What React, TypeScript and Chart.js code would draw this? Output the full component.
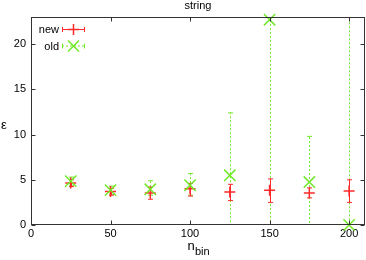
import React, { useEffect, useRef } from "react";
import { Chart, registerables } from "chart.js";

Chart.register(...registerables);

const nBins = [25, 50, 75, 100, 125, 150, 175, 200];
const newVal = [4.65, 3.7, 3.55, 4.0, 3.65, 3.85, 3.55, 3.75];
const newLow = [4.25, 3.3, 2.85, 3.2, 2.7, 2.5, 3.0, 2.5];
const newHigh = [5.0, 4.05, 4.2, 4.6, 4.5, 5.1, 4.1, 5.0];
const oldVal = [4.85, 3.85, 3.95, 4.4, 5.5, 22.7, 4.75, 0.0];
const oldLow = [4.4, 3.4, 3.3, 3.3, -5, -20, -2, -30];
const oldHigh = [5.3, 4.3, 4.9, 5.7, 12.4, 60, 9.8, 30];
const xTicks = [0, 50, 100, 150, 200];
const yTicks = [0, 5, 10, 15, 20];
const seriesNames = ["new", "old"];

const RED = "#ff2a2a";
const GREEN = "#72e82a";
const FONT = "'Liberation Sans', Arial, sans-serif";

const custom = {
  id: "custom",
  beforeDatasetsDraw(chart: any) {
    const { ctx, chartArea: a, scales } = chart;
    const xs = scales.x;
    const ys = scales.y;
    ctx.save();
    ctx.beginPath();
    ctx.rect(a.left, a.top, a.right - a.left, a.bottom - a.top);
    ctx.clip();
    const drawBars = (lo: number[], hi: number[], color: string, dash: number[]) => {
      ctx.strokeStyle = color;
      ctx.lineWidth = 1;
      ctx.setLineDash(dash);
      nBins.forEach((n, i) => {
        const px = Math.round(xs.getPixelForValue(n)) + 0.5;
        const y1 = ys.getPixelForValue(lo[i]);
        const y2 = ys.getPixelForValue(hi[i]);
        ctx.beginPath();
        ctx.moveTo(px, y1);
        ctx.lineTo(px, y2);
        ctx.stroke();
        ctx.setLineDash([]);
        ctx.beginPath();
        ctx.moveTo(px - 2.5, y1);
        ctx.lineTo(px + 2.5, y1);
        ctx.moveTo(px - 2.5, y2);
        ctx.lineTo(px + 2.5, y2);
        ctx.stroke();
        ctx.setLineDash(dash);
      });
      ctx.setLineDash([]);
    };
    drawBars(oldLow, oldHigh, GREEN, [2, 2]);
    drawBars(newLow, newHigh, RED, []);
    ctx.restore();
  },
  afterDraw(chart: any) {
    const { ctx, chartArea: a, scales } = chart;
    const xs = scales.x;
    const ys = scales.y;
    ctx.save();
    const L = Math.round(a.left) + 0.5;
    const R = Math.round(a.right) - 0.5;
    const T = Math.round(a.top) + 0.5;
    const B = Math.round(a.bottom) - 0.5;
    ctx.strokeStyle = "#333";
    ctx.lineWidth = 1;
    ctx.strokeRect(L, T, R - L, B - T);
    ctx.beginPath();
    xTicks.forEach((v) => {
      const px = Math.round(xs.getPixelForValue(v)) + 0.5;
      ctx.moveTo(px, B);
      ctx.lineTo(px, B - 4);
      ctx.moveTo(px, T);
      ctx.lineTo(px, T + 4);
    });
    yTicks.forEach((v) => {
      const py = Math.round(ys.getPixelForValue(v)) + 0.5;
      ctx.moveTo(L, py);
      ctx.lineTo(L + 4, py);
      ctx.moveTo(R, py);
      ctx.lineTo(R - 4, py);
    });
    ctx.stroke();

    // title
    ctx.fillStyle = "#000";
    ctx.font = `11px ${FONT}`;
    ctx.textAlign = "center";
    ctx.textBaseline = "alphabetic";
    ctx.fillText("string", (a.left + a.right) / 2, 8.5);

    // y label
    ctx.font = `13px ${FONT}`;
    ctx.fillText("\u03b5", 4, 129);

    // x label with subscript
    ctx.textAlign = "left";
    ctx.font = `13px ${FONT}`;
    ctx.fillText("n", 187.5, 250);
    ctx.font = `11px ${FONT}`;
    ctx.fillText("bin", 195, 255);

    // legend
    ctx.font = `11px ${FONT}`;
    ctx.textAlign = "right";
    ctx.fillText(seriesNames[0], 59, 33);
    ctx.fillText(seriesNames[1], 59, 49.5);
    const lx1 = 62, lx2 = 85, lc = 73.5;
    // red sample
    let y = 29.5;
    ctx.strokeStyle = RED;
    ctx.lineWidth = 1;
    ctx.beginPath();
    ctx.moveTo(lx1, y); ctx.lineTo(lx2, y);
    ctx.moveTo(lx1 + 0.5, y - 2.5); ctx.lineTo(lx1 + 0.5, y + 2.5);
    ctx.moveTo(lx2 - 0.5, y - 2.5); ctx.lineTo(lx2 - 0.5, y + 2.5);
    ctx.stroke();
    ctx.lineWidth = 1.5;
    ctx.beginPath();
    ctx.moveTo(lc - 5.5, y); ctx.lineTo(lc + 5.5, y);
    ctx.moveTo(lc, y - 5.5); ctx.lineTo(lc, y + 5.5);
    ctx.stroke();
    // green sample
    y = 46;
    ctx.strokeStyle = GREEN;
    ctx.lineWidth = 1;
    ctx.setLineDash([2, 2]);
    ctx.beginPath();
    ctx.moveTo(lx1, y); ctx.lineTo(lx2, y);
    ctx.stroke();
    ctx.setLineDash([]);
    ctx.beginPath();
    ctx.moveTo(lx1 + 0.5, y - 2.5); ctx.lineTo(lx1 + 0.5, y + 2.5);
    ctx.moveTo(lx2 - 0.5, y - 2.5); ctx.lineTo(lx2 - 0.5, y + 2.5);
    ctx.stroke();
    ctx.lineWidth = 1.5;
    ctx.beginPath();
    const d = 5.5;
    ctx.moveTo(lc - d, y - d); ctx.lineTo(lc + d, y + d);
    ctx.moveTo(lc - d, y + d); ctx.lineTo(lc + d, y - d);
    ctx.stroke();
    ctx.restore();
  },
};

export default function App() {
  const ref = useRef<HTMLCanvasElement | null>(null);
  useEffect(() => {
    document.body.style.margin = "0";
    if (!ref.current) return;
    const chart = new Chart(ref.current, {
      type: "scatter",
      data: {
        datasets: [
          {
            label: seriesNames[1],
            data: nBins.map((n, i) => ({ x: n, y: oldVal[i] })),
            pointStyle: "crossRot",
            pointRadius: 8,
            pointHoverRadius: 8,
            borderColor: GREEN,
            backgroundColor: GREEN,
            pointBorderWidth: 1.5,
            clip: false as any,
          },
          {
            label: seriesNames[0],
            data: nBins.map((n, i) => ({ x: n, y: newVal[i] })),
            pointStyle: "cross",
            pointRadius: 5.5,
            pointHoverRadius: 5.5,
            borderColor: RED,
            backgroundColor: RED,
            pointBorderWidth: 1.5,
            clip: false as any,
          },
        ],
      },
      options: {
        animation: false,
        responsive: false,
        events: [],
        layout: { autoPadding: false, padding: { top: 17, right: 1, left: 0, bottom: 0 } },
        plugins: {
          legend: { display: false },
          title: { display: false },
          tooltip: { enabled: false },
        },
        scales: {
          x: {
            type: "linear",
            min: 0,
            max: 210,
            grid: { display: false, drawTicks: false },
            border: { display: false },
            afterBuildTicks: (s: any) => {
              s.ticks = xTicks.map((v) => ({ value: v }));
            },
            afterFit: (s: any) => {
              s.height = 35;
              s.paddingLeft = 0;
              s.paddingRight = 0;
            },
            ticks: {
              padding: 2,
              color: "#000",
              maxRotation: 0,
              font: { family: FONT, size: 11 },
            },
          },
          y: {
            type: "linear",
            min: 0,
            max: 23,
            grid: { display: false, drawTicks: false },
            border: { display: false },
            afterBuildTicks: (s: any) => {
              s.ticks = yTicks.map((v) => ({ value: v }));
            },
            afterFit: (s: any) => {
              s.width = 31;
              s.paddingTop = 0;
              s.paddingBottom = 0;
            },
            ticks: {
              padding: 5,
              color: "#000",
              font: { family: FONT, size: 11 },
            },
          },
        },
      },
      plugins: [custom],
    });
    return () => chart.destroy();
  }, []);
  return (
    <div style={{ position: "fixed", left: 0, top: 0, width: 366, height: 260 }}>
      <canvas ref={ref} width={366} height={260} style={{ width: 366, height: 260 }} />
    </div>
  );
}
